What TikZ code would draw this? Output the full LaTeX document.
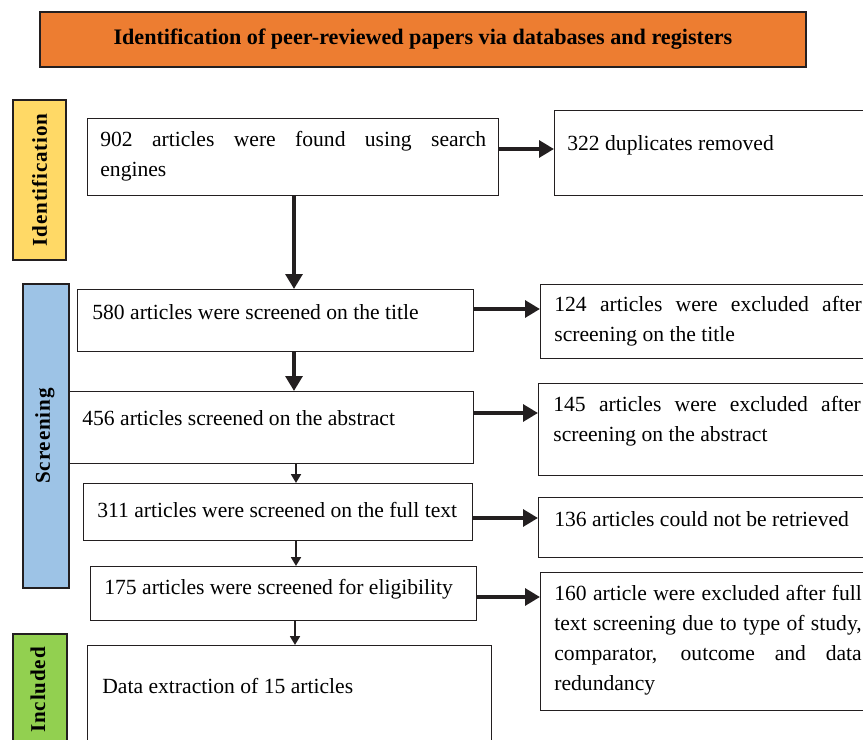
\documentclass[tikz,border=0pt]{standalone}
\usepackage{fontspec}
\setmainfont{Liberation Serif}
\usetikzlibrary{arrows.meta}
\definecolor{headorange}{HTML}{ED7D31}
\definecolor{idyellow}{HTML}{FFD966}
\definecolor{scrblue}{HTML}{9DC3E6}
\definecolor{incgreen}{HTML}{92D050}
\definecolor{inkgray}{HTML}{231F20}

\begin{document}
\begin{tikzpicture}[x=0.02cm, y=-0.02cm,
	flowbox/.style={draw=inkgray, line width=0.8pt, inner sep=0pt, anchor=north west},
	stagebar/.style={draw=inkgray, line width=1.1pt, inner sep=0pt, anchor=north west},
	flowtext/.style={anchor=west, inner sep=0pt, font=\fontsize{12.3}{17}\selectfont},
	stagetext/.style={rotate=90, inner sep=0pt, font=\fontsize{12}{14}\selectfont\bfseries\addfontfeature{LetterSpace=4}},
	bigarrow/.style={draw=inkgray, line width=2.7pt, -{Triangle[length=8.5pt,width=9.5pt]}},
	downarrow/.style={draw=inkgray, line width=1.7pt, -{Triangle[length=5pt,width=5.5pt]}}]

		\useasboundingbox (0,0) rectangle (863,740);
		\clip (0,0) rectangle (863,740);

		% heading
		\node[flowbox, fill=headorange, line width=1.1pt, minimum width=15.32cm, minimum height=1.1cm,
			font=\fontsize{12.6}{14}\selectfont\bfseries] (heading) at (39,11)
			{Identification of peer-reviewed papers via databases and registers};

		% stage bars
		\node[stagebar, fill=idyellow, minimum width=1.06cm, minimum height=3.2cm] (idbar) at (12,99) {};
		\node[stagebar, fill=scrblue, minimum width=0.92cm, minimum height=6.08cm] (scrbar) at (22,283) {};
		\node[stagebar, fill=incgreen, minimum width=1.08cm, minimum height=2.54cm] (incbar) at (12,633) {};

		\node[stagetext] (idlabel) at (idbar.center) {Identification};
		\node[stagetext] (scrlabel) at (45,436) {Screening};
		\node[stagetext] (inclabel) at (38,690) {Included};

		% identification
		\node[flowbox, minimum width=8.22cm, minimum height=1.54cm] (found) at (87,118) {};
		\node[flowbox, minimum width=6.42cm, minimum height=1.7cm] (dup) at (554,110) {};

		% screening
		\node[flowbox, minimum width=7.92cm, minimum height=1.24cm] (titlescr) at (77,289) {};
		\node[flowbox, minimum width=6.7cm, minimum height=1.48cm] (titleexcl) at (540,284) {};

		\node[flowbox, minimum width=8.1cm, minimum height=1.44cm] (abstractscr) at (68,391) {};
		\node[flowbox, minimum width=6.74cm, minimum height=1.84cm] (abstractexcl) at (538,383) {};

		\node[flowbox, minimum width=7.78cm, minimum height=1.14cm] (fullscr) at (83,483) {};
		\node[flowbox, minimum width=6.74cm, minimum height=1.2cm] (fullexcl) at (538,497) {};

		\node[flowbox, minimum width=7.72cm, minimum height=1.08cm] (elig) at (90,566) {};
		\node[flowbox, minimum width=6.7cm, minimum height=2.76cm] (eligexcl) at (540,572) {};

		% included
		\node[flowbox, minimum width=8.08cm, minimum height=2.3cm] (extract) at (87,645) {};

		% texts
		\node[flowtext, text width=7.72cm, align=justify] (foundtext) at (100,156)
			{902 articles were found using search\linebreak engines};
		\node[flowtext] (duptext) at (567,145) {322 duplicates removed};

		\node[flowtext] (titlescrtext) at (92,312) {580 articles were screened on the title};
		\node[flowtext, text width=6.15cm, align=justify] (titleexcltext) at (554,321)
			{124 articles were excluded after\linebreak screening on the title};

		\node[flowtext] (abstractscrtext) at (82,418) {456 articles screened on the abstract};
		\node[flowtext, text width=6.15cm, align=justify] (abstractexcltext) at (553,421)
			{145 articles were excluded after\linebreak screening on the abstract};

		\node[flowtext] (fullscrtext) at (97,510) {311 articles were screened on the full text};
		\node[flowtext] (fullexcltext) at (554,519) {136 articles could not be retrieved};

		\node[flowtext] (eligtext) at (104,589) {175 articles were screened for eligibility};
		\node[flowtext, text width=6.15cm, align=justify] (eligexcltext) at (554,640)
			{160 article were excluded after full\linebreak text screening due to type of study,\linebreak
			comparator, outcome and data\linebreak redundancy};

		\node[flowtext] (extracttext) at (102,686) {Data extraction of 15 articles};

		% arrows to the right
		\draw[bigarrow] (found.east |- 0,149) -- (dup.west |- 0,149);
		\draw[bigarrow] (titlescr.east |- 0,309) -- (titleexcl.west |- 0,309);
		\draw[bigarrow] (abstractscr.east |- 0,413) -- (abstractexcl.west |- 0,413);
		\draw[bigarrow] (fullscr.east |- 0,518) -- (fullexcl.west |- 0,518);
		\draw[bigarrow] (elig.east |- 0,597) -- (eligexcl.west |- 0,597);

		% arrows down
		\draw[bigarrow] (found.south -| 294,0) -- (titlescr.north -| 294,0);
		\draw[bigarrow, line width=2.3pt] (titlescr.south -| 294,0) -- (abstractscr.north -| 294,0);
		\draw[downarrow] (abstractscr.south -| 296,0) -- (fullscr.north -| 296,0);
		\draw[downarrow] (fullscr.south -| 296,0) -- (elig.north -| 296,0);
		\draw[downarrow] (elig.south -| 295,0) -- (extract.north -| 295,0);

	\end{tikzpicture}
\end{document}
